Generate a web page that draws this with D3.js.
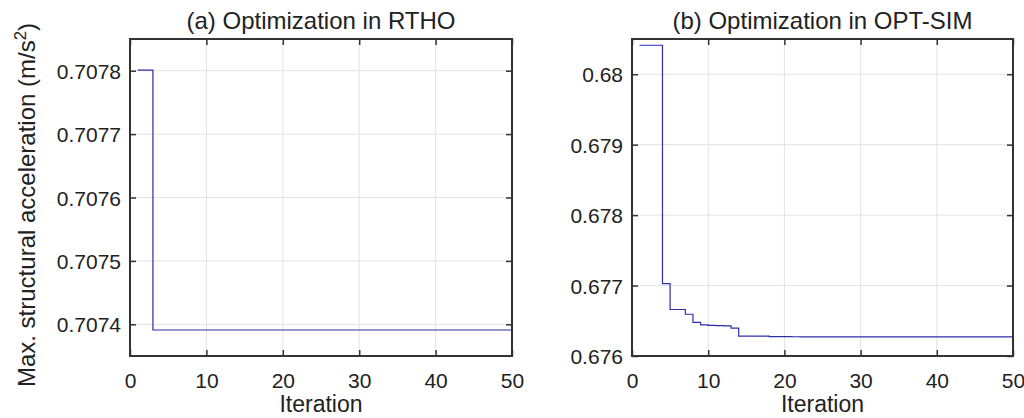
<!DOCTYPE html>
<html>
<head>
<meta charset="utf-8">
<script src="https://cdn.jsdelivr.net/npm/d3@7"></script>
<style>
  html, body { margin: 0; padding: 0; background: #fff; }
  svg { display: block; font-family: "Liberation Sans", Arial, Helvetica, sans-serif; }
</style>
</head>
<body>
<div id="chart"></div>
<script>
const WIDTH  = 1024;
const HEIGHT = 418;

// iteration axis
const xTicks = [0, 10, 20, 30, 40, 50];

// (a) RTHO, best value per iteration 1..50
const rthoValues = [
  0.707801, 0.707801, 0.707391, 0.707391, 0.707391, 0.707391, 0.707391, 0.707391, 0.707391, 0.707391,
  0.707391, 0.707391, 0.707391, 0.707391, 0.707391, 0.707391, 0.707391, 0.707391, 0.707391, 0.707391,
  0.707391, 0.707391, 0.707391, 0.707391, 0.707391, 0.707391, 0.707391, 0.707391, 0.707391, 0.707391,
  0.707391, 0.707391, 0.707391, 0.707391, 0.707391, 0.707391, 0.707391, 0.707391, 0.707391, 0.707391,
  0.707391, 0.707391, 0.707391, 0.707391, 0.707391, 0.707391, 0.707391, 0.707391, 0.707391, 0.707391
];
const rthoTicks  = [0.7074, 0.7075, 0.7076, 0.7077, 0.7078];
const rthoLabels = ["0.7074", "0.7075", "0.7076", "0.7077", "0.7078"];

// (b) OPT-SIM, best value per iteration 1..50
const optValues = [
  0.680411, 0.680411, 0.680411, 0.677028, 0.676660, 0.676660, 0.676593, 0.676476, 0.676443, 0.676436,
  0.676432, 0.676429, 0.676395, 0.676282, 0.676282, 0.676282, 0.676282, 0.676274, 0.676274, 0.676274,
  0.676273, 0.676272, 0.676272, 0.676272, 0.676272, 0.676272, 0.676272, 0.676272, 0.676272, 0.676272,
  0.676272, 0.676272, 0.676272, 0.676272, 0.676272, 0.676272, 0.676272, 0.676272, 0.676272, 0.676272,
  0.676272, 0.676272, 0.676272, 0.676272, 0.676272, 0.676272, 0.676272, 0.676272, 0.676272, 0.676272
];
const optTicks  = [0.676, 0.677, 0.678, 0.679, 0.680];
const optLabels = ["0.676", "0.677", "0.678", "0.679", "0.68"];

const AXIS_COLOR = "#333";
const GRID_COLOR = "#e3e3e3";
const LINE_COLOR = "#2f2fa6";
const TICK_FONT  = 21;
const LABEL_FONT = 24;

const svg = d3.select("#chart").append("svg")
  .attr("width", WIDTH)
  .attr("height", HEIGHT);

function panel(opts) {
  const { left, right, top, bottom, yDomain, yTicks, yLabels, values, title } = opts;

  const x = d3.scaleLinear().domain([0, 50]).range([left, right]);
  const y = d3.scaleLinear().domain(yDomain).range([bottom, top]);

  const g = svg.append("g");

  // grid
  g.append("g").selectAll("line").data(xTicks.slice(1, -1)).join("line")
    .attr("x1", d => x(d)).attr("x2", d => x(d))
    .attr("y1", top).attr("y2", bottom)
    .attr("stroke", GRID_COLOR).attr("stroke-width", 1);
  g.append("g").selectAll("line").data(yTicks).join("line")
    .attr("x1", left).attr("x2", right)
    .attr("y1", d => y(d)).attr("y2", d => y(d))
    .attr("stroke", GRID_COLOR).attr("stroke-width", 1);

  // stairs line
  const pts = values.map((v, i) => [i + 1, v]);
  g.append("path")
    .datum(pts)
    .attr("fill", "none")
    .attr("stroke", LINE_COLOR)
    .attr("stroke-width", 1.2)
    .attr("d", d3.line().x(d => x(d[0])).y(d => y(d[1])).curve(d3.curveStepAfter));

  // axes with inward ticks
  const bottomAxis = g.append("g").attr("transform", `translate(0,${bottom})`)
    .call(d3.axisBottom(x).tickValues(xTicks).tickSizeInner(-6).tickSizeOuter(0).tickPadding(0));
  bottomAxis.selectAll("text")
    .attr("y", 32).attr("dy", null)
    .attr("font-size", TICK_FONT).attr("fill", "#222");

  g.append("g").attr("transform", `translate(0,${top})`)
    .call(d3.axisTop(x).tickValues(xTicks).tickSizeInner(-6).tickSizeOuter(0).tickFormat(""));

  const leftAxis = g.append("g").attr("transform", `translate(${left},0)`)
    .call(d3.axisLeft(y).tickValues(yTicks).tickSizeInner(-6).tickSizeOuter(0).tickPadding(9)
      .tickFormat((d, i) => yLabels[i]));
  leftAxis.selectAll("text")
    .attr("dy", "0.36em")
    .attr("font-size", TICK_FONT).attr("fill", "#222");

  g.append("g").attr("transform", `translate(${right},0)`)
    .call(d3.axisRight(y).tickValues(yTicks).tickSizeInner(-6).tickSizeOuter(0).tickFormat(""));

  g.selectAll(".domain").remove();
  g.selectAll(".tick line").attr("stroke", AXIS_COLOR).attr("stroke-width", 1.5);

  // box
  g.append("rect")
    .attr("x", left).attr("y", top)
    .attr("width", right - left).attr("height", bottom - top)
    .attr("fill", "none")
    .attr("stroke", AXIS_COLOR)
    .attr("stroke-width", 2);

  // title
  g.append("text")
    .attr("x", (left + right) / 2).attr("y", 29)
    .attr("text-anchor", "middle")
    .attr("font-size", LABEL_FONT).attr("fill", "#222")
    .text(title);

  // x label
  g.append("text")
    .attr("x", (left + right) / 2).attr("y", 412)
    .attr("text-anchor", "middle")
    .attr("font-size", 23).attr("fill", "#222")
    .text("Iteration");
}

panel({
  left: 130, right: 512, top: 39, bottom: 356,
  yDomain: [0.70735, 0.70785],
  yTicks: rthoTicks, yLabels: rthoLabels,
  values: rthoValues,
  title: "(a) Optimization in RTHO"
});

panel({
  left: 632, right: 1013, top: 39, bottom: 356,
  yDomain: [0.676, 0.6805],
  yTicks: optTicks, yLabels: optLabels,
  values: optValues,
  title: "(b) Optimization in OPT-SIM"
});

// shared y label
const yl = svg.append("text")
  .attr("transform", "translate(35,205) rotate(-90)")
  .attr("text-anchor", "middle")
  .attr("font-size", LABEL_FONT).attr("fill", "#222");
yl.append("tspan").text("Max. structural acceleration (m/s");
yl.append("tspan").attr("font-size", LABEL_FONT * 0.7).attr("dy", -9).text("2");
yl.append("tspan").attr("dy", 9).text(")");
</script>
</body>
</html>
